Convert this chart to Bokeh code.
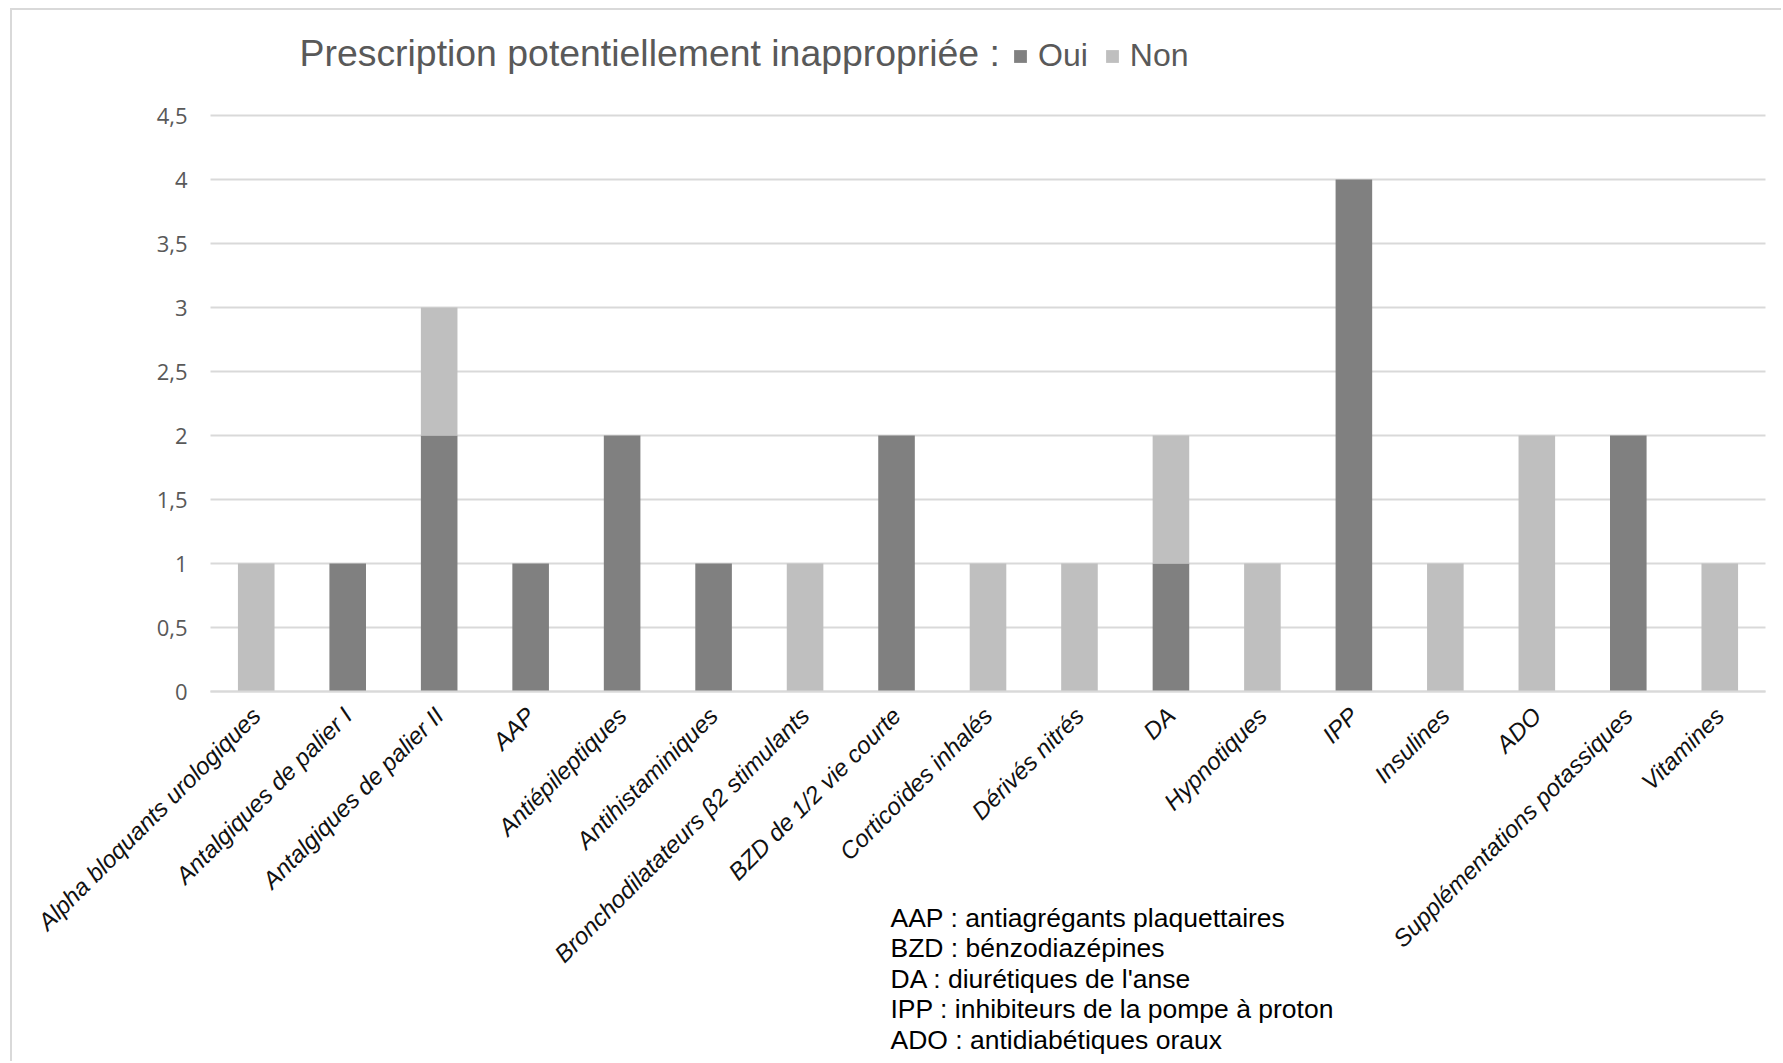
from math import pi

from bokeh.embed import file_html
from bokeh.models import (ColumnDataSource, FixedTicker, Label, Legend,
                          LegendItem, Range1d)
from bokeh.plotting import figure
from bokeh.resources import INLINE

# ---- data -----------------------------------------------------------------
categories = [
    "Alpha bloquants urologiques",
    "Antalgiques de palier I",
    "Antalgiques de palier II",
    "AAP",
    "Antiépileptiques",
    "Antihistaminiques",
    "Bronchodilatateurs β2 stimulants",
    "BZD de 1/2 vie courte",
    "Corticoïdes inhalés",
    "Dérivés nitrés",
    "DA",
    "Hypnotiques",
    "IPP",
    "Insulines",
    "ADO",
    "Supplémentations potassiques",
    "Vitamines",
]
oui = [0, 1, 2, 1, 2, 1, 0, 2, 0, 0, 1, 0, 4, 0, 0, 2, 0]
non = [1, 0, 1, 0, 0, 0, 1, 0, 1, 1, 1, 1, 0, 1, 2, 0, 1]
series_names = ["Oui", "Non"]

y_ticks = [0, 0.5, 1, 1.5, 2, 2.5, 3, 3.5, 4, 4.5]
y_tick_labels = ["0", "0,5", "1", "1,5", "2", "2,5", "3", "3,5", "4", "4,5"]

title_text = "Prescription potentiellement inappropriée :"
abbreviations = [
    "AAP : antiagrégants plaquettaires",
    "BZD : bénzodiazépines",
    "DA : diurétiques de l'anse",
    "IPP : inhibiteurs de la pompe à proton",
    "ADO : antidiabétiques oraux",
]

# ---- styling / layout -------------------------------------------------------
DARK = "#808080"
LIGHT = "#bfbfbf"
GRID = "#d9d9d9"
TEXT_GREY = "#595959"
SANS = "Liberation Sans"

W, H = 1771, 1053            # canvas size
PLOT_LEFT, PLOT_RIGHT = 198, 1753   # canvas columns bounding the category band
PX_PER_UNIT = 128            # vertical pixels per unit of the value axis
ZERO_ROW = 681               # canvas row of the zero line

n = len(categories)
xs = list(range(n))
cat_px = (PLOT_RIGHT - PLOT_LEFT) / n

source = ColumnDataSource(dict(x=xs, Oui=oui, Non=non))

# The frame spans the whole canvas: the axes are pinned inside it, so the
# heading, legend, notes and slanted labels are never cut at its edges.
x_range = Range1d(-0.5 - PLOT_LEFT / cat_px, n - 0.5 + (W - PLOT_RIGHT) / cat_px)
y_range = Range1d(-(H - ZERO_ROW) / PX_PER_UNIT, ZERO_ROW / PX_PER_UNIT)

p = figure(
    x_range=x_range,
    y_range=y_range,
    width=W,
    height=H,
    output_backend="svg",
    toolbar_location=None,
    min_border=0,
    outline_line_color=None,
    background_fill_color="white",
    border_fill_color="white",
)
p.styles = {
    "margin-left": "10px",
    "margin-top": "8px",
    "border-left": f"2px solid {GRID}",
    "border-top": f"2px solid {GRID}",
}

renderers = p.vbar_stack(
    series_names,
    x="x",
    width=0.4,
    color=[DARK, LIGHT],
    line_color=None,
    source=source,
)

# value axis and horizontal grid
p.xgrid.grid_line_color = None
p.ygrid.grid_line_color = GRID
p.ygrid.grid_line_width = 2
try:
    p.ygrid.cross_bounds = (-0.5, n - 0.5)
except AttributeError:
    pass

p.yaxis.fixed_location = -0.5
p.yaxis.ticker = FixedTicker(ticks=y_ticks)
p.yaxis.major_label_overrides = dict(zip(y_ticks, y_tick_labels))
p.yaxis.axis_line_color = None
p.yaxis.major_tick_line_color = None
p.yaxis.minor_tick_line_color = None
p.yaxis.major_label_standoff = 17
p.yaxis.major_label_text_font = "Open Sans"
p.yaxis.major_label_text_font_size = "22px"
p.yaxis.major_label_text_color = TEXT_GREY

# category axis on the zero line
p.xaxis.fixed_location = 0
p.xaxis.bounds = (-0.5, n - 0.5)
p.xaxis.ticker = FixedTicker(ticks=xs)
p.xaxis.major_label_overrides = dict(zip(xs, categories))
p.xaxis.axis_line_color = GRID
p.xaxis.axis_line_width = 2
p.xaxis.major_tick_line_color = None
p.xaxis.minor_tick_line_color = None
p.xaxis.major_label_orientation = pi / 4
p.xaxis.major_label_standoff = 14
p.xaxis.major_label_text_font = SANS
p.xaxis.major_label_text_font_style = "italic"
p.xaxis.major_label_text_font_size = "24px"
p.xaxis.major_label_text_color = "#111111"

# heading with the legend next to it (screen offsets from the frame's bottom-left)
p.add_layout(Label(
    x=287, y=H - 42, x_units="screen", y_units="screen",
    text=title_text, text_font=SANS, text_font_size="37.4px",
    text_color=TEXT_GREY, text_baseline="middle",
))

legend = Legend(
    items=[LegendItem(label=name, renderers=[r]) for name, r in zip(series_names, renderers)],
    orientation="horizontal",
    location=(1000, H - 64),
    padding=0,
    margin=0,
    spacing=16,
    glyph_width=16,
    glyph_height=16,
    label_standoff=10,
    label_text_font=SANS,
    label_text_font_size="32px",
    label_text_color=TEXT_GREY,
    border_line_color=None,
    background_fill_alpha=0,
)
p.add_layout(legend)

# abbreviation notes under the category labels
note_rows = [907, 937.5, 968, 998.5, 1029]   # canvas rows of each line's centre
for line, row in zip(abbreviations, note_rows):
    p.add_layout(Label(
        x=878, y=H - row, x_units="screen", y_units="screen",
        text=line, text_font=SANS, text_font_size="26.5px",
        text_color="#000000", text_baseline="middle",
    ))

open("out.html", "w").write(file_html(p, INLINE))
